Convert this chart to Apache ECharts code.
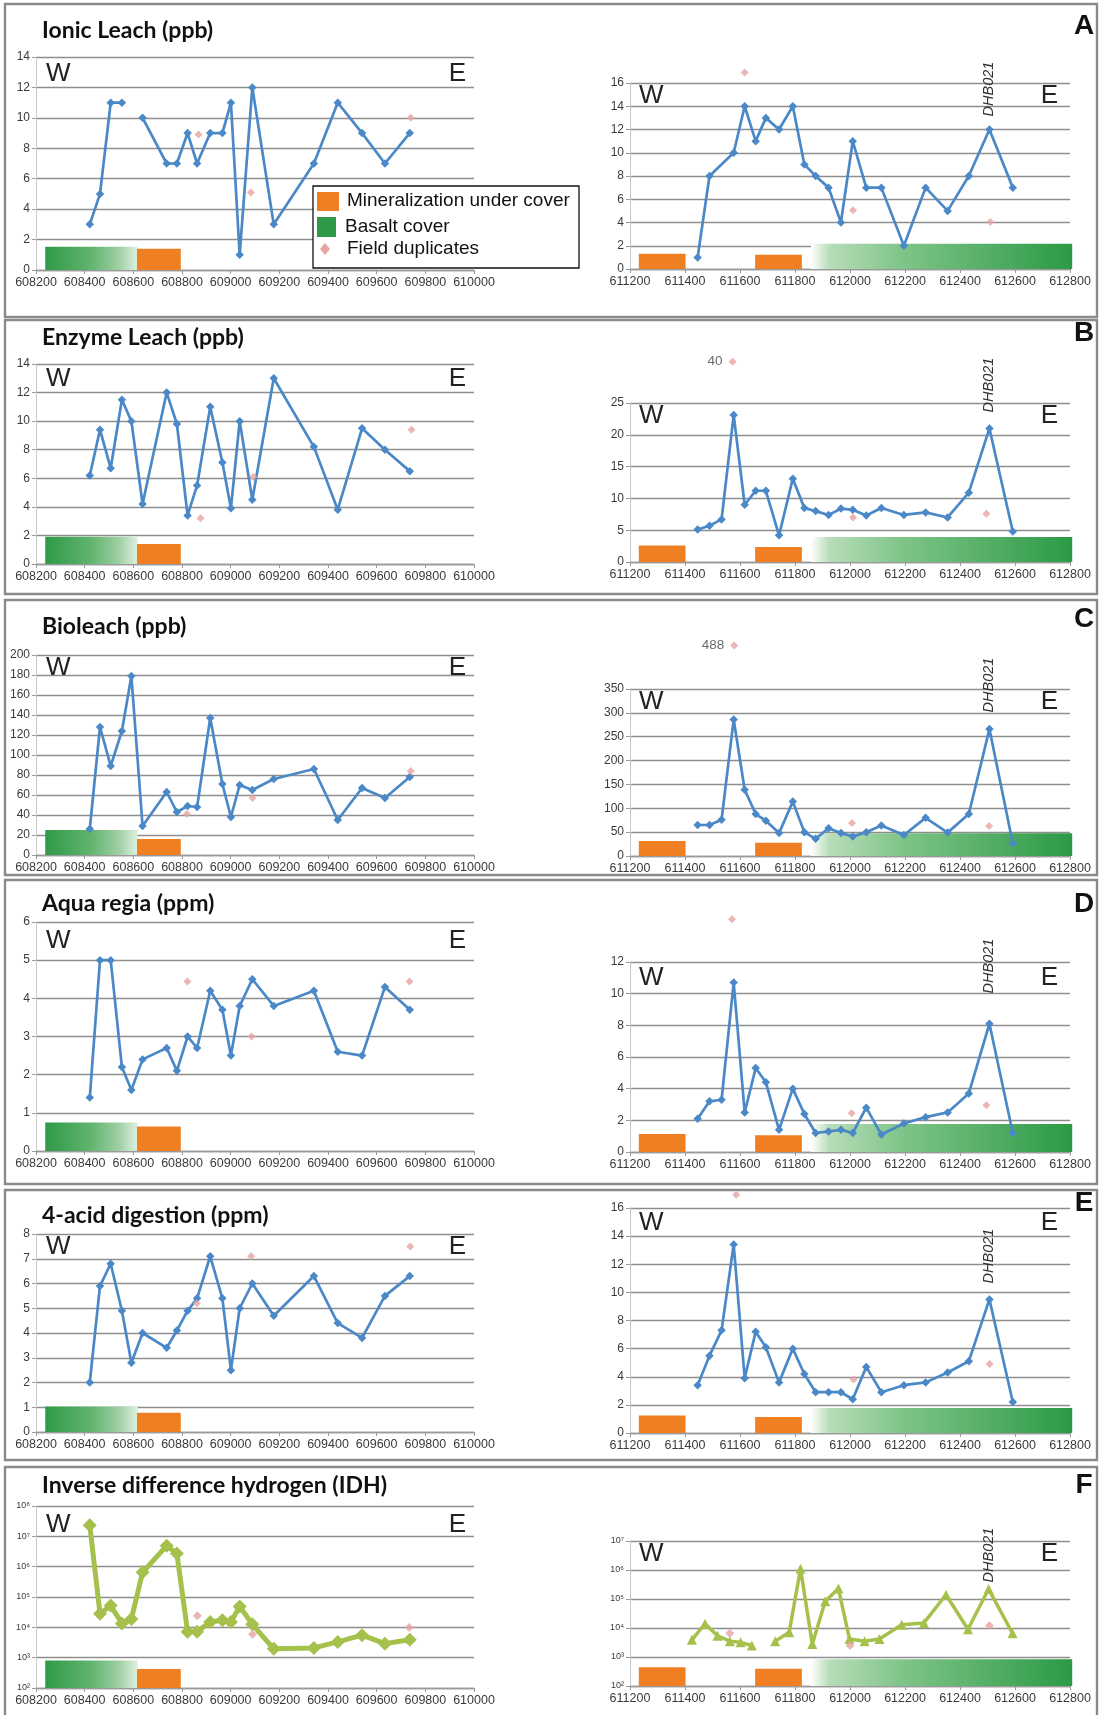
<!DOCTYPE html>
<html><head><meta charset="utf-8">
<script src="https://cdn.jsdelivr.net/npm/echarts/dist/echarts.min.js"></script>
<style>html,body{margin:0;padding:0;background:#fff}#c{width:1102px;height:1715px}</style>
</head><body><div id="c"></div>
<script>
// ---------- sample positions (easting, m) ----------
const W_X = [608421, 608463, 608507, 608553, 608592, 608638, 608737, 608779, 608823, 608862, 608916, 608966, 609001, 609037, 609089, 609177, 609342, 609440, 609540, 609634, 609736];
const E_X = [611446, 611489, 611533, 611577, 611617, 611657, 611694, 611742, 611792, 611834, 611875, 611922, 611967, 612010, 612059, 612114, 612196, 612275, 612355, 612432, 612507, 612592];
const E_X_IDH = [611425, 611473, 611518, 611563, 611602, 611643, 611685, 611728, 611779, 611820, 611863, 611910, 611958, 611998, 612053, 612107, 612188, 612269, 612349, 612429, 612504, 612591];

// ---------- series values ----------
const ionicW  = [3, 5, 11, 11, null, 10, 7, 7, 9, 7, 9, 9, 11, 1, 12, 3, 7, 11, 9, 7, 9];
const ionicE  = [1, 8, null, 10, 14, 11, 13, 12, 14, 9, 8, 7, 4, 11, 7, 7, 2, 7, 5, 8, 12, 7];
const enzymeW = [6.2, 9.4, 6.7, 11.5, 10.0, 4.2, 12.0, 9.8, 3.4, 5.5, 11.0, 7.1, 3.9, 10.0, 4.5, 13.0, 8.2, 3.8, 9.5, 8.0, 6.5];
const enzymeE = [5.1, 5.7, 6.7, 23.1, 9.0, 11.2, 11.2, 4.2, 13.1, 8.5, 8.0, 7.4, 8.4, 8.2, 7.3, 8.5, 7.4, 7.8, 7.0, 10.9, 21.0, 4.8];
const bioW    = [26, 128, 89, 124, 179, 29, 63, 43, 49, 48, 137, 71, 38, 70, 65, 76, 86, 35, 67, 57, 78];
const bioE    = [65, 65, 76, 286, 139, 88, 74, 48, 114, 50, 36, 58, 48, 41, 50, 64, 44, 80, 49, 88, 266, 26];
const aquaW   = [1.4, 5.0, 5.0, 2.2, 1.6, 2.4, 2.7, 2.1, 3.0, 2.7, 4.2, 3.7, 2.5, 3.8, 4.5, 3.8, 4.2, 2.6, 2.5, 4.3, 3.7];
const aquaE   = [2.1, 3.2, 3.3, 10.7, 2.5, 5.3, 4.4, 1.4, 4.0, 2.4, 1.2, 1.3, 1.4, 1.2, 2.8, 1.1, 1.8, 2.2, 2.5, 3.7, 8.1, 1.2];
const acidW   = [2.0, 5.9, 6.8, 4.9, 2.8, 4.0, 3.4, 4.1, 4.9, 5.4, 7.1, 5.4, 2.5, 5.0, 6.0, 4.7, 6.3, 4.4, 3.8, 5.5, 6.3];
const acidE   = [3.4, 5.5, 7.3, 13.4, 3.9, 7.2, 6.1, 3.6, 6.0, 4.2, 2.9, 2.9, 2.9, 2.4, 4.7, 2.9, 3.4, 3.6, 4.3, 5.1, 9.5, 2.2];
const idhW    = [2.3e7, 2.8e4, 5.2e4, 1.35e4, 1.9e4, 6.5e5, 4.9e6, 2.7e6, 7.1e3, 7.1e3, 1.5e4, 1.7e4, 1.5e4, 4.9e4, 1.26e4, 1.95e3, 2.1e3, 3.3e3, 5.5e3, 2.9e3, 3.9e3];
const idhE    = [3.9e3, 1.4e4, 5.4e3, 3.5e3, 3.2e3, 2.5e3, null, 3.5e3, 7.2e3, 1.1e6, 2.8e3, 8.3e4, 2.3e5, 4.2e3, 3.5e3, 4.2e3, 1.3e4, 1.5e4, 1.4e5, 9.1e3, 2.2e5, 6.6e3];

// ---------- field duplicates [easting, value] ----------
const ionicDupW  = [[608868, 8.9], [609083, 5.1], [609740, 10]];
const ionicDupE  = [[611617, 16.9], [612011, 5.05], [612510, 4.05]];
const enzymeDupW = [[608876, 3.2], [609093, 6.1], [609743, 9.4]];
const enzymeDupE = [[611573, 40], [612011, 7.0], [612496, 7.6]];
const bioDupW    = [[608820, 41], [609090, 57], [609740, 84]];
const bioDupE    = [[611579, 488], [612007, 69], [612506, 63]];
const aquaDupW   = [[608822, 4.44], [609086, 3.0], [609735, 4.44]];
const aquaDupE   = [[611571, 14.7], [612006, 2.45], [612496, 2.96]];
const acidDupW   = [[608861, 5.2], [609084, 7.1], [609738, 7.5]];
const acidDupE   = [[611586, 16.95], [612013, 3.8], [612508, 4.9]];
const idhDupW    = [[608863, 2.4e4], [609090, 5.9e3], [609734, 9.8e3]];
const idhDupE    = [[611563, 6.6e3], [612000, 2.5e3], [612507, 1.2e4]];

// ---------- cover / mineralization bars ----------
const W_GREEN = [608238, 608618];
const W_ORANGE = [608615, 608795];
const E_ORANGE1 = [611232, 611402];
const E_ORANGE2 = [611655, 611825];
const E_GREEN = [611858, 612808];
// heights: west [green, orange]; east [orange1, orange2, green]
const ionicBarW = [1.53, 1.4],  ionicBarE = [1.32, 1.23, 2.18];
const enzymeBarW = [1.9, 1.4],  enzymeBarE = [2.58, 2.37, 3.95];
const bioBarW = [25, 16],       bioBarE = [31.5, 28, 47.6];
const aquaBarW = [0.75, 0.64],  aquaBarE = [1.14, 1.06, 1.77];
const acidBarW = [1.03, 0.78],  acidBarE = [1.25, 1.13, 1.78];
const idhBarW = [800, 420],     idhBarE = [440, 390, 830];

// ---------- axes ----------
const W_EXT = [608200, 610000], E_EXT = [611200, 612800], X_STEP = 200;
const ionicY = [[0, 14, 2], [0, 16, 2]];
const enzymeY = [[0, 14, 2], [0, 25, 5]];
const bioY = [[0, 200, 20], [0, 350, 50]];
const aquaY = [[0, 6, 1], [0, 12, 2]];
const acidY = [[0, 8, 1], [0, 16, 2]];
const idhY = [[1e2, 1e8], [1e2, 1e7]];
const DHB_X = 612507;

const panels = [
 {letter:'A', title:'Ionic Leach (ppb)', w:ionicW, e:ionicE, wd:ionicDupW, ed:ionicDupE, wb:ionicBarW, eb:ionicBarE, y:ionicY, eConnect:true,
  box:[4,317], titleY:31, letterY:26, wg:[57,270], eg:[83,269], wWE:74, eWE:96, dhbY:89},
 {letter:'B', title:'Enzyme Leach (ppb)', w:enzymeW, e:enzymeE, wd:enzymeDupW, ed:enzymeDupE, wb:enzymeBarW, eb:enzymeBarE, y:enzymeY,
  box:[320,594], titleY:338, letterY:333, wg:[364,564], eg:[403,562], wWE:379, eWE:416, dhbY:385},
 {letter:'C', title:'Bioleach (ppb)', w:bioW, e:bioE, wd:bioDupW, ed:bioDupE, wb:bioBarW, eb:bioBarE, y:bioY,
  box:[600,875], titleY:627, letterY:619, wg:[655,855], eg:[689,856], wWE:668, eWE:702, dhbY:685},
 {letter:'D', title:'Aqua regia (ppm)', w:aquaW, e:aquaE, wd:aquaDupW, ed:aquaDupE, wb:aquaBarW, eb:aquaBarE, y:aquaY,
  box:[880,1184], titleY:904, letterY:904, wg:[922,1151], eg:[962,1152], wWE:941, eWE:978, dhbY:966},
 {letter:'E', title:'4-acid digestion (ppm)', w:acidW, e:acidE, wd:acidDupW, ed:acidDupE, wb:acidBarW, eb:acidBarE, y:acidY,
  box:[1190,1460], titleY:1216, letterY:1203, wg:[1234,1432], eg:[1208,1433], wWE:1247, eWE:1223, dhbY:1256},
 {letter:'F', title:'Inverse difference hydrogen (IDH)', w:idhW, e:idhE, wd:idhDupW, ed:idhDupE, wb:idhBarW, eb:idhBarE, y:idhY, log:true,
  box:[1467,1740], titleY:1486, letterY:1485, wg:[1506,1688], eg:[1541,1686], wWE:1525, eWE:1554, dhbY:1555}
];

const BLUE = '#4a88c7', OLIVE = '#a6c14b', PINK = '#e6a4a4', ORANGE = '#ef7f22';
const FONT = '"Liberation Sans", Arial, sans-serif';
const GRID_W = {left:36, width:438}, GRID_E = {left:630, width:440};
const SUP = '⁰¹²³⁴⁵⁶⁷⁸⁹';

const greenW = new echarts.graphic.LinearGradient(0,0,1,0,[{offset:0,color:'#2d9a46'},{offset:0.5,color:'#62b46e'},{offset:0.8,color:'#9fd0a4'},{offset:1,color:'#dff0e0'}]);
const greenE = new echarts.graphic.LinearGradient(0,0,1,0,[{offset:0,color:'#ffffff'},{offset:0.07,color:'#b7ddb9'},{offset:0.35,color:'#7fc488'},{offset:1,color:'#2b9a45'}]);
const FILLS = [ORANGE, greenW, greenE];

function renderBar(params, api) {
  const x0 = api.value(0), x1 = api.value(1), top = api.value(2), kind = api.value(3), base = api.value(4);
  const p0 = api.coord([x0, top]);
  const p1 = api.coord([x1, base]);
  return {type:'rect', shape:{x:p0[0], y:p0[1], width:p1[0]-p0[0], height:p1[1]-p0[1]}, style:{fill:FILLS[kind]}};
}

const grids = [], xAxes = [], yAxes = [], series = [];
panels.forEach((p, i) => {
  [0, 1].forEach(side => {
    const gi = i * 2 + side;
    const gl = side ? GRID_E : GRID_W;
    const gy = side ? p.eg : p.wg;
    grids.push({left:gl.left, width:gl.width, top:gy[0], height:gy[1]-gy[0], containLabel:false, outerBoundsMode:'none'});
    const ext = side ? E_EXT : W_EXT;
    xAxes.push({type:'value', gridIndex:gi, min:ext[0], max:ext[1], interval:X_STEP,
      axisLine:{show:true, lineStyle:{color:'#9a9a9a', width:1.3}},
      axisTick:{show:true, length:4, lineStyle:{color:'#9a9a9a'}},
      splitLine:{show:false},
      axisLabel:{color:'#3a3a3a', fontSize:12.5, fontFamily:FONT, margin:6, formatter:v => String(v)}});
    const ys = p.y[side];
    const yAx = {gridIndex:gi,
      axisLine:{show:true, lineStyle:{color:'#c8c8c8'}},
      axisTick:{show:true, length:4, lineStyle:{color:'#9a9a9a'}},
      splitLine:{show:true, lineStyle:{color:'#8e8e8e', width:1.4}},
      axisLabel:{color:'#3a3a3a', fontSize:12, fontFamily:FONT, margin:6}};
    if (p.log) {
      Object.assign(yAx, {type:'log', logBase:10, min:ys[0], max:ys[1], splitNumber:Math.round(Math.log10(ys[1]/ys[0]))});
      yAx.axisLabel.fontSize = 9;
      yAx.axisLabel.formatter = v => '10' + SUP[Math.round(Math.log10(v))];
    } else {
      Object.assign(yAx, {type:'value', min:ys[0], max:ys[1], interval:ys[2]});
    }
    yAxes.push(yAx);

    // bars
    const base = ys[0];
    const bars = side
      ? [[E_ORANGE1[0], E_ORANGE1[1], p.eb[0], 0, base], [E_ORANGE2[0], E_ORANGE2[1], p.eb[1], 0, base], [E_GREEN[0], E_GREEN[1], p.eb[2], 2, base]]
      : [[W_GREEN[0], W_GREEN[1], p.wb[0], 1, base], [W_ORANGE[0], W_ORANGE[1], p.wb[1], 0, base]];
    series.push({type:'custom', xAxisIndex:gi, yAxisIndex:gi, renderItem:renderBar, data:bars, z:1, silent:true, clip:false,
      encode:{x:[0,1], y:[2,4]}});

    // line
    const xs = side ? (p.log ? E_X_IDH : E_X) : W_X;
    const vals = side ? p.e : p.w;
    const col = p.log ? OLIVE : BLUE;
    series.push({type:'line', xAxisIndex:gi, yAxisIndex:gi,
      data: xs.map((x, k) => [x, vals[k] == null ? '-' : vals[k]]),
      connectNulls: !!(side && p.eConnect),
      symbol: p.log && side ? 'triangle' : 'diamond',
      symbolSize: p.log ? (side ? 10 : 14) : 8.5,
      showAllSymbol:true,
      lineStyle:{color:col, width: p.log ? (side ? 3.5 : 5) : 2.7},
      itemStyle:{color:col}, z:3, animation:false});

    // duplicates
    const dups = side ? p.ed : p.wd;
    const cap = ys[1] * 1.26;
    series.push({type:'scatter', xAxisIndex:gi, yAxisIndex:gi, clip:false, symbol:'diamond', symbolSize: p.log ? 9 : 8,
      itemStyle:{color:PINK}, z:4, animation:false,
      data: dups.map(d => (!p.log && d[1] > cap)
        ? {value:[d[0], cap], label:{show:true, position:'left', distance:6, formatter:String(d[1]), color:'#444', fontSize:13.5, fontFamily:FONT}}
        : {value:d})});
  });
});

const chart = echarts.init(document.getElementById('c'), null, {renderer:'canvas'});
chart.setOption({animation:false, backgroundColor:'#fff', grid:grids, xAxis:xAxes, yAxis:yAxes, series:series});

// ---------- chrome ----------
const g = [];
panels.forEach((p, i) => {
  g.push({type:'rect', shape:{x:5, y:p.box[0], width:1092, height:p.box[1]-p.box[0]}, style:{fill:'none', stroke:'#8a8a8a', lineWidth:2.4}, z:0, silent:true});
  g.push({type:'text', x:GRID_W.left + 6, y:p.titleY, style:{text:p.title, font:'bold 23px Lato, "Open Sans", sans-serif', fill:'#111', verticalAlign:'middle'}, z:10});
  g.push({type:'text', x:1084, y:p.letterY, style:{text:p.letter, font:'bold 28px ' + FONT, fill:'#111', align:'center', verticalAlign:'middle'}, z:10});
  // W / E
  g.push({type:'text', x:GRID_W.left + 10, y:p.wWE, style:{text:'W', font:'26px ' + FONT, fill:'#222', verticalAlign:'middle'}, z:10});
  g.push({type:'text', x:GRID_W.left + GRID_W.width - 8, y:p.wWE, style:{text:'E', font:'26px ' + FONT, fill:'#222', align:'right', verticalAlign:'middle'}, z:10});
  g.push({type:'text', x:GRID_E.left + 9, y:p.eWE, style:{text:'W', font:'26px ' + FONT, fill:'#222', verticalAlign:'middle'}, z:10});
  g.push({type:'text', x:GRID_E.left + GRID_E.width - 12, y:p.eWE, style:{text:'E', font:'26px ' + FONT, fill:'#222', align:'right', verticalAlign:'middle'}, z:10});
  // DHB021
  const px = chart.convertToPixel({gridIndex: i*2+1}, [DHB_X, p.log ? 1e3 : 1])[0];
  g.push({type:'text', x:px, y:p.dhbY, rotation:Math.PI/2, style:{text:'DHB021', font:'italic 14.5px ' + FONT, fill:'#333', align:'center', verticalAlign:'middle'}, z:10});
});
// legend (panel A)
const LX = 313, LY = 186;
g.push({type:'rect', shape:{x:LX, y:LY, width:266, height:82}, style:{fill:'#fff', stroke:'#111', lineWidth:1.3}, z:20});
g.push({type:'rect', shape:{x:LX+4, y:LY+6, width:22, height:19}, style:{fill:ORANGE}, z:21});
g.push({type:'text', x:LX+34, y:LY+15, style:{text:'Mineralization under cover', font:'19px ' + FONT, fill:'#111', verticalAlign:'middle'}, z:21});
g.push({type:'rect', shape:{x:LX+4, y:LY+31, width:19, height:20}, style:{fill:'#2e9a47'}, z:21});
g.push({type:'text', x:LX+32, y:LY+41, style:{text:'Basalt cover', font:'19px ' + FONT, fill:'#111', verticalAlign:'middle'}, z:21});
g.push({type:'polygon', shape:{points:[[LX+12,LY+57],[LX+17,LY+63],[LX+12,LY+69],[LX+7,LY+63]]}, style:{fill:PINK}, z:21});
g.push({type:'text', x:LX+34, y:LY+63, style:{text:'Field duplicates', font:'19px ' + FONT, fill:'#111', verticalAlign:'middle'}, z:21});
chart.setOption({graphic:g});
</script></body></html>
